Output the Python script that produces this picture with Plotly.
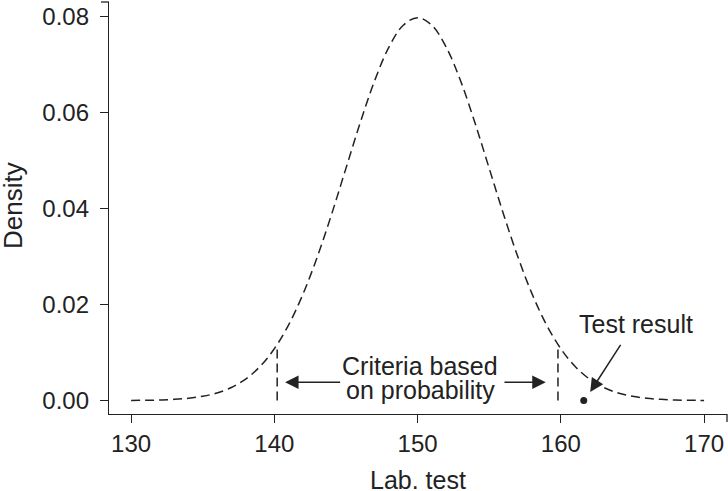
import plotly.graph_objects as go

# Density curve values (lab test value vs density)
lab_x = [130, 131, 132, 133, 134, 135, 136, 137, 138, 139, 140, 141, 142, 143, 144,
         145, 146, 147, 148, 149, 150, 151, 152, 153, 154, 155, 156, 157, 158, 159,
         160, 161, 162, 163, 164, 165, 166, 167, 168, 169, 170]
density = [0.00003, 0.00006, 0.00012, 0.00025, 0.00048, 0.00089, 0.00158, 0.00272,
           0.00448, 0.00709, 0.01080, 0.01579, 0.02218, 0.02995, 0.03884, 0.04839,
           0.05794, 0.06664, 0.07365, 0.07821, 0.07979, 0.07821, 0.07365, 0.06664,
           0.05794, 0.04839, 0.03884, 0.02995, 0.02218, 0.01579, 0.01080, 0.00709,
           0.00448, 0.00272, 0.00158, 0.00089, 0.00048, 0.00025, 0.00012, 0.00006,
           0.00003]

criteria_x = [140.2, 159.8]
criteria_top = [0.0115, 0.0115]

test_x = [161.6]
test_y = [0.0]

x_ticks = [130, 140, 150, 160, 170]
y_ticks = [0.00, 0.02, 0.04, 0.06, 0.08]
y_ticklabels = ["0.00", "0.02", "0.04", "0.06", "0.08"]

INK = "#222222"
FONT = "Liberation Sans, Arial, Helvetica, sans-serif"

fig = go.Figure()

fig.add_trace(go.Scatter(
    x=lab_x, y=density, mode="lines",
    line=dict(color=INK, width=1.5, dash="9px,5px", shape="spline"),
    showlegend=False, hoverinfo="skip"))

for cx, ct in zip(criteria_x, criteria_top):
    fig.add_trace(go.Scatter(
        x=[cx, cx], y=[0, ct], mode="lines",
        line=dict(color=INK, width=1.5, dash="9px,5px"),
        showlegend=False, hoverinfo="skip"))

fig.add_trace(go.Scatter(
    x=test_x, y=test_y, mode="markers",
    marker=dict(color=INK, size=7),
    showlegend=False, hoverinfo="skip"))

def arrow(x_tip, y_tip, x_tail, y_tail):
    fig.add_annotation(x=x_tip, y=y_tip, ax=x_tail, ay=y_tail,
                       xref="x", yref="y", axref="x", ayref="y",
                       text="", showarrow=True, arrowhead=2, arrowsize=1.8,
                       arrowwidth=1.5, arrowcolor=INK, standoff=0, startstandoff=0)

arrow(140.75, 0.0038, 144.70, 0.0038)
arrow(158.95, 0.0038, 155.96, 0.0038)
arrow(162.05, 0.0018, 164.24, 0.01192)

txt_font = dict(family=FONT, size=25, color=INK)
fig.add_annotation(x=150.2, y=0.00716, xref="x", yref="y", text="Criteria based",
                   showarrow=False, font=txt_font)
fig.add_annotation(x=150.2, y=0.00215, xref="x", yref="y", text="on probability",
                   showarrow=False, font=txt_font)
fig.add_annotation(x=165.22, y=0.01606, xref="x", yref="y", text="Test result",
                   showarrow=False, font=txt_font)

# axis titles
fig.add_annotation(x=0, y=0.5, xref="paper", yref="paper", text="Density",
                   textangle=-90, showarrow=False, xanchor="center", yanchor="middle",
                   xshift=-96, yshift=2, font=dict(family=FONT, size=26, color=INK))
fig.add_annotation(x=0.5, y=0, xref="paper", yref="paper", text="Lab. test",
                   showarrow=False, xanchor="center", yanchor="middle",
                   yshift=-66, font=txt_font)

# end caps on the axis lines
plot_w = 728 - 109 - 1
plot_h = 491 - 2 - 77
fig.add_shape(type="line", xref="paper", yref="paper", x0=-8 / plot_w, x1=0, y0=1, y1=1,
              line=dict(color=INK, width=1.3))
fig.add_shape(type="line", xref="paper", yref="paper", x0=1, x1=1, y0=0, y1=-8 / plot_h,
              line=dict(color=INK, width=1.3))

fig.update_layout(
    width=728, height=491,
    margin=dict(l=109, r=1, t=2, b=77),
    paper_bgcolor="white", plot_bgcolor="white",
    font=dict(family=FONT, size=24, color=INK),
    showlegend=False,
)
fig.update_xaxes(range=[128.46, 171.6], tickvals=x_ticks, ticks="outside", ticklen=8,
                 tickwidth=1.3, tickcolor=INK, showline=True, linewidth=1.3, linecolor=INK,
                 showgrid=False, zeroline=False, tickfont=dict(size=24, color=INK))
fig.update_yaxes(range=[-0.0028, 0.08306], tickvals=y_ticks, ticktext=y_ticklabels,
                 ticks="outside", ticklen=8, tickwidth=1.3, tickcolor=INK, showline=True,
                 linewidth=1.3, linecolor=INK, showgrid=False, zeroline=False,
                 ticklabelstandoff=6, tickfont=dict(size=24, color=INK))

fig.write_html("out.html", config={"displayModeBar": False},
               post_script="document.body.style.margin='0';document.body.style.overflow='hidden';")
